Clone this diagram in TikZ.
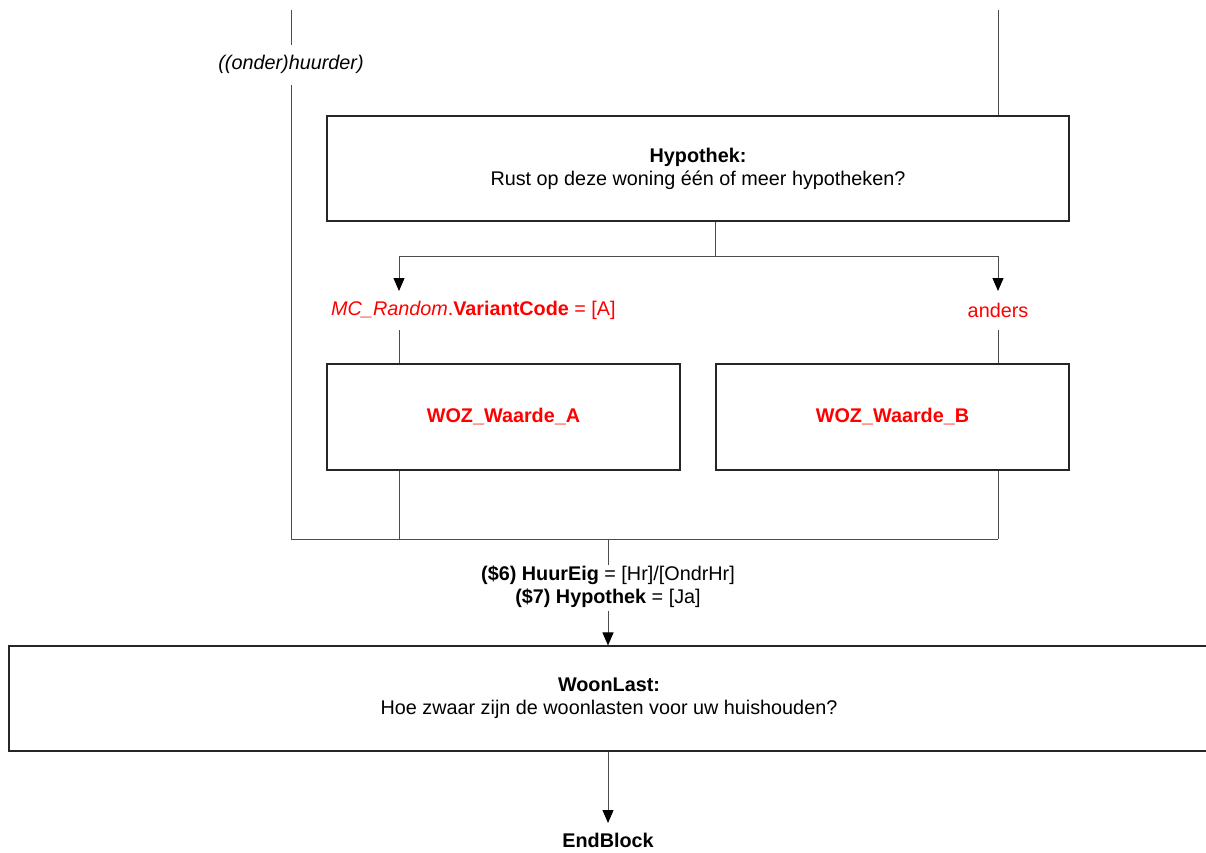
\documentclass[tikz,border=0pt]{standalone}
\usepackage{fontspec}
\setmainfont{Liberation Sans}
\usetikzlibrary{arrows.meta}
\definecolor{bred}{RGB}{255,0,0}
\tikzset{
  qbox/.style={draw=black!85, line width=1.1pt, rectangle, align=center, inner sep=0pt},
  conn/.style={draw=black!70, line width=1pt},
  arr/.style={conn, -{Triangle[length=13pt,width=11pt,color=black]}},
  lbl/.style={inner sep=0pt, align=center, font=\fontsize{19.8}{23}\selectfont},
}
\begin{document}
\begin{tikzpicture}[x=1pt,y=-1pt, font=\fontsize{19.8}{23}\selectfont]
\useasboundingbox (0,0) rectangle (1206,852);

% top incoming lines
\coordinate (tl) at (291,10);
\coordinate (tr) at (998,10);
\node[lbl] (huur) at (291,64) {\itshape ((onder)huurder)};
\coordinate (tlb) at (291,45);
\coordinate (tla) at (291,85);

% Hypothek box
\node[qbox, minimum width=742pt, minimum height=105pt] (hyp) at (698,168.5)
  {\textbf{Hypothek:}\\Rust op deze woning één of meer hypotheken?};

% split
\coordinate (sp) at (715,256);
\coordinate (sl) at (399,256);
\coordinate (sr) at (998,256);
\coordinate (al) at (399,291);
\coordinate (ar) at (998,291);

\node[lbl, anchor=west, text=bred] (condA) at (331,310)
  {\textit{MC\_Random}.\textbf{VariantCode} = [A]};
\node[lbl, text=bred] (condB) at (998,310) {anders};
\coordinate (bl) at (399,330);
\coordinate (br) at (998,330);

% WOZ boxes
\node[qbox, minimum width=353pt, minimum height=106pt, text=bred, font=\fontsize{19.8}{23}\selectfont\bfseries] (wa) at (503.5,417) {WOZ\_Waarde\_A};
\node[qbox, minimum width=353pt, minimum height=106pt, text=bred, font=\fontsize{19.8}{23}\selectfont\bfseries] (wb) at (892.5,417) {WOZ\_Waarde\_B};

% join
\coordinate (jl) at (291,539);
\coordinate (ja) at (399,539);
\coordinate (jm) at (608,539);
\coordinate (jb) at (998,539);
\coordinate (jd) at (608,565);

\node[lbl] (cond2) at (608,587)
  {\textbf{(\$6) HuurEig} = [Hr]/[OndrHr]\\\textbf{(\$7) Hypothek} = [Ja]};
\coordinate (ja2) at (608,611);

% WoonLast box
\node[qbox, minimum width=1200pt, minimum height=105pt] (woon) at (609,698.5)
  {\textbf{WoonLast:}\\Hoe zwaar zijn de woonlasten voor uw huishouden?};

\node[lbl, font=\fontsize{19.8}{23}\selectfont\bfseries] (end) at (608,840) {EndBlock};
\coordinate (ea) at (608,823);

% connectors
\draw[conn] (tl) -- (tlb);
\draw[conn] (tla) -- (jl) -- (jb);
\draw[conn] (tr) -- (tr |- hyp.north);
\draw[conn] (sp |- hyp.south) -- (sp);
\draw[conn] (sl) -- (sr);
\draw[arr] (sl) -- (al);
\draw[arr] (sr) -- (ar);
\draw[conn] (bl) -- (bl |- wa.north);
\draw[conn] (br) -- (br |- wb.north);
\draw[conn] (ja |- wa.south) -- (ja);
\draw[conn] (jb |- wb.south) -- (jb);
\draw[conn] (jm) -- (jd);
\draw[arr] (ja2) -- (ja2 |- woon.north);
\draw[arr] (jm |- woon.south) -- (ea);
\end{tikzpicture}
\end{document}
